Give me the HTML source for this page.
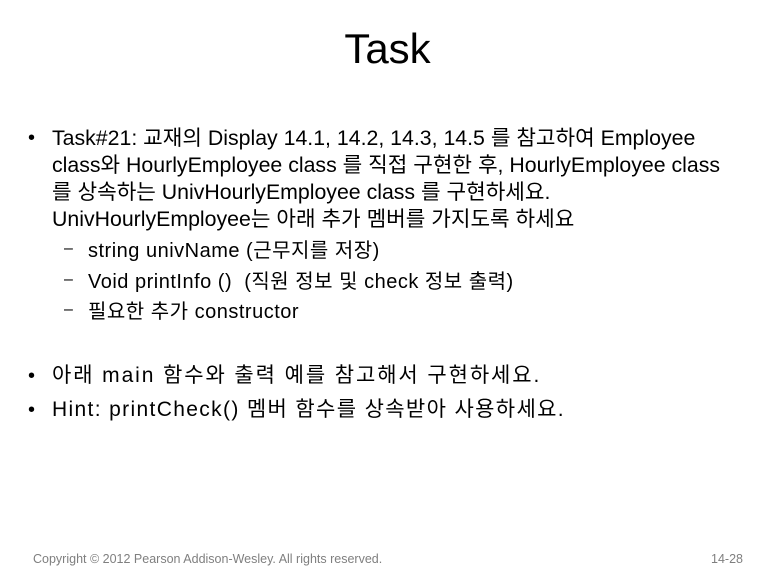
<!DOCTYPE html>
<html><head><meta charset="utf-8">
<style>
html,body{margin:0;padding:0;background:#fff;}
body{width:775px;height:580px;position:relative;overflow:hidden;font-family:"Liberation Sans","Noto Sans CJK KR",sans-serif;color:#000;}
.title{position:absolute;left:0;width:775px;top:25px;text-align:center;font-size:42px;}
.l{position:absolute;white-space:nowrap;font-size:21.3px;}
.b{position:absolute;font-size:20px;}
.s{position:absolute;white-space:nowrap;font-size:20px;letter-spacing:0.5px;}
.d{position:absolute;font-size:16px;}
.foot{position:absolute;top:552px;font-size:12.5px;color:#7f7f7f;white-space:nowrap;}
</style></head><body>
<div class="title">Task</div>

<div class="b" style="left:28px;top:127px">•</div>
<div class="l" style="left:52px;top:121px">Task#21: 교재의 Display 14.1, 14.2, 14.3, 14.5 를 참고하여 Employee</div>
<div class="l" style="left:52px;top:148px">class와 HourlyEmployee class 를 직접 구현한 후, HourlyEmployee class</div>
<div class="l" style="left:52px;top:175px">를 상속하는 UnivHourlyEmployee class 를 구현하세요.</div>
<div class="l" style="left:52px;top:202px">UnivHourlyEmployee는 아래 추가 멤버를 가지도록 하세요</div>

<div class="d" style="left:64px;top:240px">–</div>
<div class="s" style="left:88px;top:234px">string univName (근무지를 저장)</div>
<div class="d" style="left:64px;top:271px">–</div>
<div class="s" style="left:88px;top:265px">Void printInfo () &nbsp;(직원 정보 및 check 정보 출력)</div>
<div class="d" style="left:64px;top:301px">–</div>
<div class="s" style="left:88px;top:295px">필요한 추가 constructor</div>

<div class="b" style="left:28px;top:365px">•</div>
<div class="l" style="left:52px;top:359px;font-size:21px;letter-spacing:1.9px">아래 main 함수와 출력 예를 참고해서 구현하세요.</div>
<div class="b" style="left:28px;top:399px">•</div>
<div class="l" style="left:52px;top:393px;font-size:21px;letter-spacing:1.35px">Hint: printCheck() 멤버 함수를 상속받아 사용하세요.</div>

<div class="foot" style="left:33px">Copyright © 2012 Pearson Addison-Wesley. All rights reserved.</div>
<div class="foot" style="left:711px">14-28</div>
</body></html>
